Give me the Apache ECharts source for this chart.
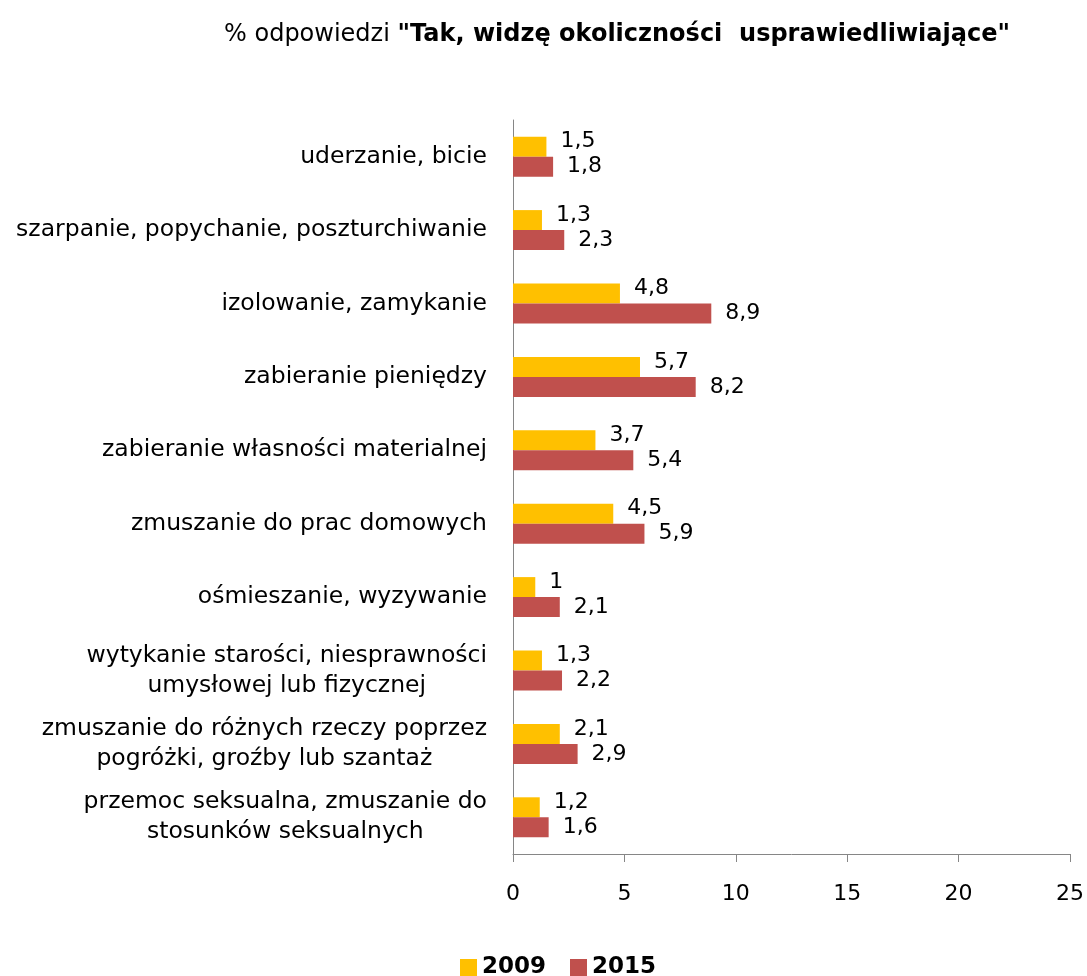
<!DOCTYPE html>
<html>
<head>
<meta charset="utf-8">
<script src="https://cdn.jsdelivr.net/npm/echarts@6.0.0/dist/echarts.min.js"></script>
<style>
  html, body { margin: 0; padding: 0; background: #fff; }
  #chart { width: 1087px; height: 976px; }
</style>
</head>
<body>
<div id="chart"></div>
<script>
  var FONT = 'DejaVu Sans';

  var categories = [
    'uderzanie, bicie',
    'szarpanie, popychanie, poszturchiwanie',
    'izolowanie, zamykanie',
    'zabieranie pieniędzy',
    'zabieranie własności materialnej',
    'zmuszanie do prac domowych',
    'ośmieszanie, wyzywanie',
    'wytykanie starości, niesprawności\numysłowej lub fizycznej',
    'zmuszanie do różnych rzeczy poprzez\npogróżki, groźby lub szantaż',
    'przemoc seksualna, zmuszanie do\nstosunków seksualnych'
  ];
  var values2009 = [1.5, 1.3, 4.8, 5.7, 3.7, 4.5, 1, 1.3, 2.1, 1.2];
  var values2015 = [1.8, 2.3, 8.9, 8.2, 5.4, 5.9, 2.1, 2.2, 2.9, 1.6];
  var seriesNames = ['2009', '2015'];
  var colors = ['#FFC000', '#C0504D'];

  function fmt(v) { return String(v).replace('.', ','); }

  var chart = echarts.init(document.getElementById('chart'));

  function barSeries(name, data, color, offset) {
    return {
      name: name,
      type: 'bar',
      data: data,
      barWidth: 20,
      barGap: '0%',
      itemStyle: { color: color },
      label: {
        show: true,
        position: 'right',
        distance: 14,
        offset: offset,
        color: '#000',
        fontFamily: FONT,
        fontSize: 22,
        formatter: function (p) { return fmt(p.value); }
      }
    };
  }

  chart.setOption({
    animation: false,
    title: {
      text: '{n|% odpowiedzi }{b|"Tak, widzę okoliczności  usprawiedliwiające"}',
      left: 612,
      textAlign: 'center',
      top: 18,
      textStyle: {
        rich: {
          n: { fontFamily: FONT, fontSize: 24, fontWeight: 'normal', color: '#000' },
          b: { fontFamily: FONT, fontSize: 24, fontWeight: 'bold', color: '#000' }
        }
      }
    },
    legend: {
      top: 951,
      left: 455,
      itemWidth: 17,
      itemHeight: 17,
      itemGap: 24,
      icon: 'rect',
      textStyle: { fontFamily: FONT, fontSize: 23, fontWeight: 'bold', color: '#000' },
      data: seriesNames
    },
    grid: { left: 513, right: 17, top: 120, bottom: 122, containLabel: false },
    xAxis: {
      type: 'value',
      min: 0,
      max: 25,
      interval: 5,
      splitLine: { show: false },
      axisLine: { show: true, lineStyle: { color: '#868686', width: 1 } },
      axisTick: { show: true, length: 8, lineStyle: { color: '#868686' } },
      axisLabel: { fontFamily: FONT, fontSize: 22, color: '#000', margin: 29 }
    },
    yAxis: {
      type: 'category',
      inverse: true,
      data: categories,
      axisLine: { show: true, lineStyle: { color: '#868686', width: 1 } },
      axisTick: { show: false },
      axisLabel: {
        margin: 26,
        fontFamily: FONT,
        fontSize: 23.5,
        color: '#000',
        lineHeight: 30,
        formatter: function (v) {
          return v.split('\n').map(function (l) { return '{c|' + l + '}'; }).join('\n');
        },
        rich: {
          c: { align: 'center', fontFamily: FONT, fontSize: 23.5, color: '#000', lineHeight: 30 }
        }
      }
    },
    series: [
      barSeries(seriesNames[0], values2009, colors[0], [0, -5]),
      barSeries(seriesNames[1], values2015, colors[1], [0, 0])
    ]
  });
</script>
</body>
</html>
